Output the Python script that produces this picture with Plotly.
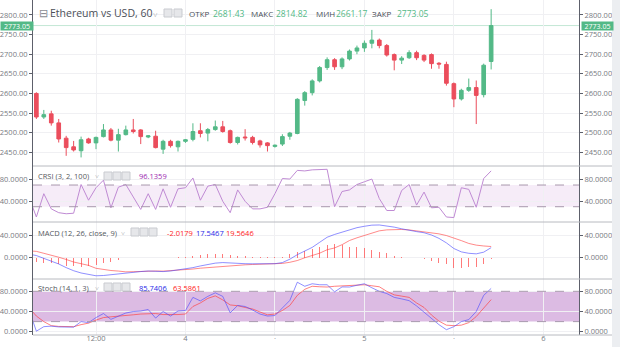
import plotly.graph_objects as go
import pandas as pd

# ---------------- data (hourly ETH/USD candles, first one is just off-screen) ----------------
start_time = "2021-08-03 03:00"
opens = [2588, 2600, 2540, 2548, 2525, 2486, 2464, 2454, 2484, 2474, 2490,
         2507, 2481, 2495, 2507, 2507, 2489, 2491, 2458, 2478, 2464,
         2478, 2483, 2505, 2499, 2508, 2515, 2505, 2475, 2489, 2488,
         2479, 2474, 2465, 2471, 2491, 2498, 2582, 2602, 2632, 2666,
         2686, 2668, 2688, 2708, 2716, 2728, 2736, 2722, 2699, 2685,
         2691, 2704, 2697, 2699, 2677, 2674, 2625, 2586, 2608, 2615,
         2597, 2681.43]
highs = [2606, 2603, 2558, 2556, 2535, 2492, 2479, 2490, 2487, 2490, 2522,
         2512, 2510, 2518, 2535, 2509, 2494, 2505, 2482, 2482, 2480,
         2484, 2524, 2524, 2512, 2531, 2530, 2508, 2490, 2509, 2492,
         2482, 2476, 2470, 2496, 2502, 2588, 2606, 2636, 2670, 2692,
         2690, 2692, 2712, 2722, 2735, 2762, 2740, 2726, 2702, 2695,
         2710, 2709, 2700, 2702, 2680, 2681, 2628, 2612, 2638, 2633,
         2676, 2814.82]
lows = [2580, 2535, 2535, 2518, 2475, 2441, 2452, 2437, 2472, 2458, 2488,
        2478, 2452, 2493, 2498, 2471, 2486, 2460, 2446, 2462, 2452,
        2474, 2478, 2488, 2478, 2505, 2500, 2472, 2470, 2480, 2470,
        2462, 2452, 2462, 2466, 2482, 2496, 2569, 2595, 2628, 2660,
        2660, 2662, 2684, 2700, 2706, 2715, 2715, 2694, 2659, 2675,
        2688, 2685, 2680, 2663, 2663, 2620, 2565, 2582, 2604, 2522,
        2590, 2661.17]
closes = [2600, 2540, 2546, 2525, 2484, 2462, 2456, 2482, 2474, 2488, 2507,
          2481, 2495, 2507, 2503, 2490, 2492, 2462, 2478, 2467, 2478,
          2482, 2503, 2498, 2508, 2515, 2503, 2475, 2488, 2487, 2475,
          2469, 2467, 2468, 2490, 2499, 2585, 2602, 2632, 2666, 2686,
          2668, 2688, 2708, 2716, 2728, 2736, 2722, 2698, 2685, 2690,
          2704, 2691, 2685, 2676, 2675, 2626, 2586, 2608, 2615, 2595,
          2672, 2773.05]

crsi = [48, 11, 54, 26, 19, 17, 18, 71, 42, 65, 79,
        28, 66, 71, 48, 25, 54, 25, 63, 29, 63,
        65, 83, 42, 68, 71, 40, 19, 61, 40, 26,
        26, 29, 54, 82, 81, 97, 96, 98, 98, 99,
        30, 58, 61, 71, 76, 81, 45, 23, 23, 60,
        71, 33, 57, 28, 29, 11, 10, 65, 62, 29,
        82, 96.1359]

macd_line = [6, 3.5, -1.5, -6, -11.5, -18, -23.5, -27.5, -29.5, -32.5, -32,
             -30.5, -28.5, -27, -26, -25, -24, -24.5, -25, -24, -22,
             -20.5, -18, -15, -12.5, -10, -9, -10, -10.5, -11, -11.2,
             -11.5, -11.6, -11, -9, -3, 5, 11.5, 18, 27, 36,
             41, 45, 49.5, 53, 55.5, 57.5, 57.8, 56.5, 54, 51,
             48, 46, 44, 40, 34, 26, 16, 10, 7.5, 6.5,
             9.5, 17.5467]
macd_signal = [11.8, 10.9, 7.5, 4.4, 0.5, -3.5, -8, -11, -14, -19.2, -21.6,
               -23.1, -24.1, -25.5, -25.2, -24.7, -23.8, -24, -24.2, -23.6, -22.5,
               -21.7, -20.5, -19, -18, -16.5, -15, -14, -13.5, -13, -12.4,
               -12.1, -11.9, -11.5, -10.5, -8.5, -5.4, -0.5, 3.5, 7.7, 13.8,
               17, 22.8, 30.2, 35, 39.2, 44.2, 47.4, 49.1, 50, 49.8,
               49, 47.5, 46, 44, 42, 39, 35, 30, 25, 22,
               20.5, 19.5646]
macd_hist = [-5.8, -7.4, -9, -10.4, -12, -14.5, -15.5, -16.5, -15.5, -13.3, -10.4,
             -7.4, -4.4, -1.5, -0.8, -0.3, -0.2, -0.5, -0.8, -0.4, 0.5,
             1.2, 2.5, 4, 5.5, 6.5, 6, 4, 3, 2, 1.2,
             0.6, 0.3, 0.5, 1.5, 5.5, 10.4, 12, 14.5, 19.3, 22.2,
             24, 22.2, 19.3, 18, 16.3, 13.3, 10.4, 7.4, 2.7, 0.3,
             -0.5, -1.5, -3.3, -5.6, -9.2, -11.6, -19.3, -19.3, -16.3, -16.3,
             -11.6, -2.0179]

stoch_k = [44, 1, 10, 11, 9.5, 10, 9, 20, 18, 28, 36,
           24.5, 30, 37, 40, 41, 44, 27, 40, 31, 41,
           42, 68, 61, 70, 77, 70, 37.5, 52, 50, 43,
           35, 31, 32, 47, 62, 98, 90, 95, 93, 93,
           79, 88.7, 88.5, 92, 95, 87, 80, 75.6, 68, 65,
           61.5, 51, 39, 26, 14, 4, 10, 20, 24, 40,
           72, 85.7406]
stoch_d = [48, 31, 20, 12, 10.5, 10, 10, 14, 17, 23, 28,
           29.5, 30.5, 32, 33.5, 35, 36, 36, 34, 33.5, 34,
           35, 50, 57, 66, 71, 63, 53, 51.5, 48, 45,
           39, 33.5, 35, 42, 52, 72, 84, 90, 89, 88.5,
           90, 90.5, 91, 92, 93, 91, 89, 80, 73, 70.5,
           68, 57, 48, 33, 21, 13, 12, 13, 18, 30,
           46, 63.5861]

times = pd.date_range(start_time, periods=len(opens), freq="h")

x_tick_vals = ["2021-08-03 12:00", "2021-08-04 00:00", "2021-08-04 12:00",
               "2021-08-05 00:00", "2021-08-05 12:00", "2021-08-06 00:00"]
x_tick_text = ["12:00", "4", "·", "5", "·", "6"]
price_ticks = [2450, 2500, 2550, 2600, 2650, 2700, 2750, 2800]
crsi_ticks = [40, 80]
macd_ticks = [0, 40]
stoch_ticks = [0, 40, 80]
crsi_band = [30, 70]
stoch_band = [20, 80]

title_text = "Ethereum vs USD, 60"
crsi_title = "CRSI (3, 2, 100)"
macd_title = "MACD (12, 26, close, 9)"
stoch_title = "Stoch (14, 1, 3)"
ohlc_labels = ["ОТКР", "МАКС", "МИН", "ЗАКР"]

# ---------------- style ----------------
W, H = 620, 347
X0, X1 = 33, 579
FONT = "Open Sans"
UP, DOWN = "#53b987", "#eb4d5c"
GRID = "#f0f0f3"
AXIS_C = "#5d606b"
TICK_C = "#777a82"
TXT = "#4a4e57"
CRSI_C = "#c08bd4"
MACD_C = "rgba(70,70,255,0.6)"
SIG_C = "rgba(255,60,60,0.6)"
HIST_C = "rgba(255,90,90,0.8)"
K_C = "rgba(70,70,255,0.6)"
D_C = "rgba(255,60,60,0.65)"

panels = {  # pixel top/bottom of each pane
    "y": (0, 166), "y2": (166, 222), "y3": (222, 279), "y4": (279, 335)}
ranges = {"y": [2415.1, 2838.2], "y2": [1.8, 105.1],
          "y3": [-38.2, 63.1], "y4": [-6.5, 104.4]}
ticks = {"y": price_ticks, "y2": crsi_ticks, "y3": macd_ticks, "y4": stoch_ticks}
fmts = {"y": ".2f", "y2": ".4f", "y3": ".4f", "y4": ".4f"}


def dom(k):
    t, b = panels[k]
    return [1 - b / H, 1 - t / H]


fig = go.Figure()
fig.add_trace(go.Candlestick(
    x=times, open=opens, high=highs, low=lows, close=closes,
    increasing=dict(line=dict(color=UP, width=1), fillcolor=UP),
    decreasing=dict(line=dict(color=DOWN, width=1), fillcolor=DOWN),
    whiskerwidth=0, xaxis="x", yaxis="y", showlegend=False, hoverinfo="skip"))
fig.add_trace(go.Scatter(x=times, y=crsi, mode="lines", line=dict(color=CRSI_C, width=1),
                         xaxis="x", yaxis="y2", showlegend=False, hoverinfo="skip"))
fig.add_trace(go.Bar(x=times, y=macd_hist, width=480000, marker=dict(color=HIST_C, line=dict(width=0)),
                     xaxis="x", yaxis="y3", showlegend=False, hoverinfo="skip"))
fig.add_trace(go.Scatter(x=times, y=macd_signal, mode="lines", line=dict(color=SIG_C, width=1),
                         xaxis="x", yaxis="y3", showlegend=False, hoverinfo="skip"))
fig.add_trace(go.Scatter(x=times, y=macd_line, mode="lines", line=dict(color=MACD_C, width=1),
                         xaxis="x", yaxis="y3", showlegend=False, hoverinfo="skip"))
fig.add_trace(go.Scatter(x=times, y=stoch_d, mode="lines", line=dict(color=D_C, width=1),
                         xaxis="x", yaxis="y4", showlegend=False, hoverinfo="skip"))
fig.add_trace(go.Scatter(x=times, y=stoch_k, mode="lines", line=dict(color=K_C, width=1),
                         xaxis="x", yaxis="y4", showlegend=False, hoverinfo="skip"))
# helper (empty) traces so the mirrored left-hand scales are drawn
for ov in ["y5", "y6", "y7", "y8"]:
    fig.add_trace(go.Scatter(x=[times[1]], y=[None], mode="lines", xaxis="x", yaxis=ov,
                             showlegend=False, hoverinfo="skip"))

base_axis = dict(automargin=False, fixedrange=True, zeroline=False, ticks="outside", ticklen=3,
                 tickcolor=AXIS_C, showline=True, linecolor=AXIS_C, linewidth=1,
                 tickfont=dict(family=FONT, size=7.5, color=TICK_C))
layout = dict(
    width=W, height=H, margin=dict(l=0, r=0, t=0, b=0), template="none",
    paper_bgcolor="white", plot_bgcolor="white", showlegend=False, bargap=0,
    font=dict(family=FONT, color=TXT),
    xaxis=dict(domain=[X0 / W, X1 / W], type="date", anchor="y4",
               range=["2021-08-03 03:33", "2021-08-06 04:47"],
               tickvals=x_tick_vals, ticktext=x_tick_text, showgrid=True, gridcolor=GRID,
               ticks="", ticklabelstandoff=-3, showline=False, zeroline=False,
               automargin=False, fixedrange=True, rangeslider=dict(visible=False),
               tickfont=dict(family=FONT, size=7.5, color=TICK_C)),
)
for i, k in enumerate(["y", "y2", "y3", "y4"]):
    name = "yaxis" if k == "y" else "yaxis" + k[1:]
    layout[name] = dict(base_axis, domain=dom(k), range=ranges[k], side="right", anchor="x",
                        tickvals=ticks[k], tickformat=fmts[k], showgrid=True, gridcolor=GRID)
    ov = "yaxis" + str(5 + i)
    layout[ov] = dict(base_axis, overlaying=k, range=ranges[k], side="left", anchor="x",
                      tickvals=ticks[k], tickformat=fmts[k], showgrid=False)
fig.update_layout(**layout)

shapes = []
# indicator bands
shapes.append(dict(type="rect", xref="x domain", x0=0, x1=1, yref="y2", y0=crsi_band[0], y1=crsi_band[1],
                   fillcolor="rgba(156,39,176,0.09)", line=dict(width=0), layer="below"))
shapes.append(dict(type="rect", xref="x domain", x0=0, x1=1, yref="y4", y0=stoch_band[0], y1=stoch_band[1],
                   fillcolor="rgba(150,50,170,0.33)", line=dict(width=0), layer="below"))
for yr, vals in [("y2", crsi_band), ("y4", stoch_band)]:
    for v in vals:
        shapes.append(dict(type="line", xref="x domain", x0=0, x1=1, yref=yr, y0=v, y1=v,
                           line=dict(color="#a898ad", width=1, dash="dash")))
# last-price line
shapes.append(dict(type="line", xref="x domain", x0=0, x1=1, yref="y", y0=closes[-1], y1=closes[-1],
                   line=dict(color="rgba(83,185,135,0.35)", width=1), layer="below"))
# pane separators
for p in [166, 222, 279, 335]:
    shapes.append(dict(type="line", xref="paper", x0=X0 / W, x1=612 / W, yref="paper",
                       y0=1 - p / H, y1=1 - p / H, line=dict(color="#b8bac0", width=1)))
# right-hand scrollbar strip
shapes.append(dict(type="rect", xref="paper", x0=612 / W, x1=1, yref="paper", y0=0, y1=1,
                   fillcolor="#eceef1", line=dict(width=0)))


def icon_boxes(xs, y0, y1):
    for x in xs:
        shapes.append(dict(type="rect", xref="paper", yref="paper", x0=x / W, x1=(x + 8) / W,
                           y0=1 - y1 / H, y1=1 - y0 / H, fillcolor="#e6e7ea",
                           line=dict(color="#c9cbd0", width=1)))


icon_boxes([164, 174], 9, 17)
icon_boxes([104, 113, 122], 172, 180)
icon_boxes([131, 140, 149], 228, 236)
icon_boxes([104, 113, 122], 283, 291)
fig.update_layout(shapes=shapes)

anns = []


def txt(x, y, s, size=8, color=TXT, anchor="left"):
    anns.append(dict(xref="paper", yref="paper", x=x / W, y=1 - y / H, text=s, showarrow=False,
                     xanchor=anchor, yanchor="middle", font=dict(family=FONT, size=size, color=color)))


txt(37, 13, "⊟", 10.5, "#8a8d94")
txt(48, 13, title_text, 10.5, "#4a4e57")
txt(151, 14, "˅", 8, "#9a9ca3")
o, h, l, c = opens[-1], highs[-1], lows[-1], closes[-1]
for lx, vx, lab, val in [(187, 211, ohlc_labels[0], o), (249, 274, ohlc_labels[1], h),
                         (314, 334, ohlc_labels[2], l), (370, 395, ohlc_labels[3], c)]:
    txt(lx, 13.5, lab, 8, "#4a4e57")
    txt(vx, 13.5, f"{val:.2f}", 8.5, UP)

txt(36, 176, crsi_title, 7.5, "#555860")
txt(93, 177, "˅", 7, "#9a9ca3")
txt(137, 176, f"{crsi[-1]:.4f}", 7.5, "#9c27b0")

txt(36, 232.5, macd_title, 7.5, "#555860")
txt(119, 233.5, "˅", 7, "#9a9ca3")
txt(165, 232.5, f"{macd_hist[-1]:.4f}", 7.5, "#ff2222")
txt(194, 232.5, f"{macd_line[-1]:.4f}", 7.5, "#2828e8")
txt(224, 232.5, f"{macd_signal[-1]:.4f}", 7.5, "#ff2222")

txt(36, 287.5, stoch_title, 7.5, "#555860")
txt(93, 288.5, "˅", 7, "#9a9ca3")
txt(137, 287.5, f"{stoch_k[-1]:.4f}", 7.5, "#2828e8")
txt(171, 287.5, f"{stoch_d[-1]:.4f}", 7.5, "#ff2222")

# current price tags on both scales
for xp, w in [(580.5, 31), (0, 32)]:
    anns.append(dict(xref="paper", yref="y", x=xp / W, y=closes[-1], text=f"{closes[-1]:.2f}",
                     showarrow=False, xanchor="left", yanchor="middle", width=w, height=8,
                     bgcolor=UP, borderpad=0, font=dict(family=FONT, size=7, color="white")))
fig.update_layout(annotations=anns)

fig.write_html("out.html")
